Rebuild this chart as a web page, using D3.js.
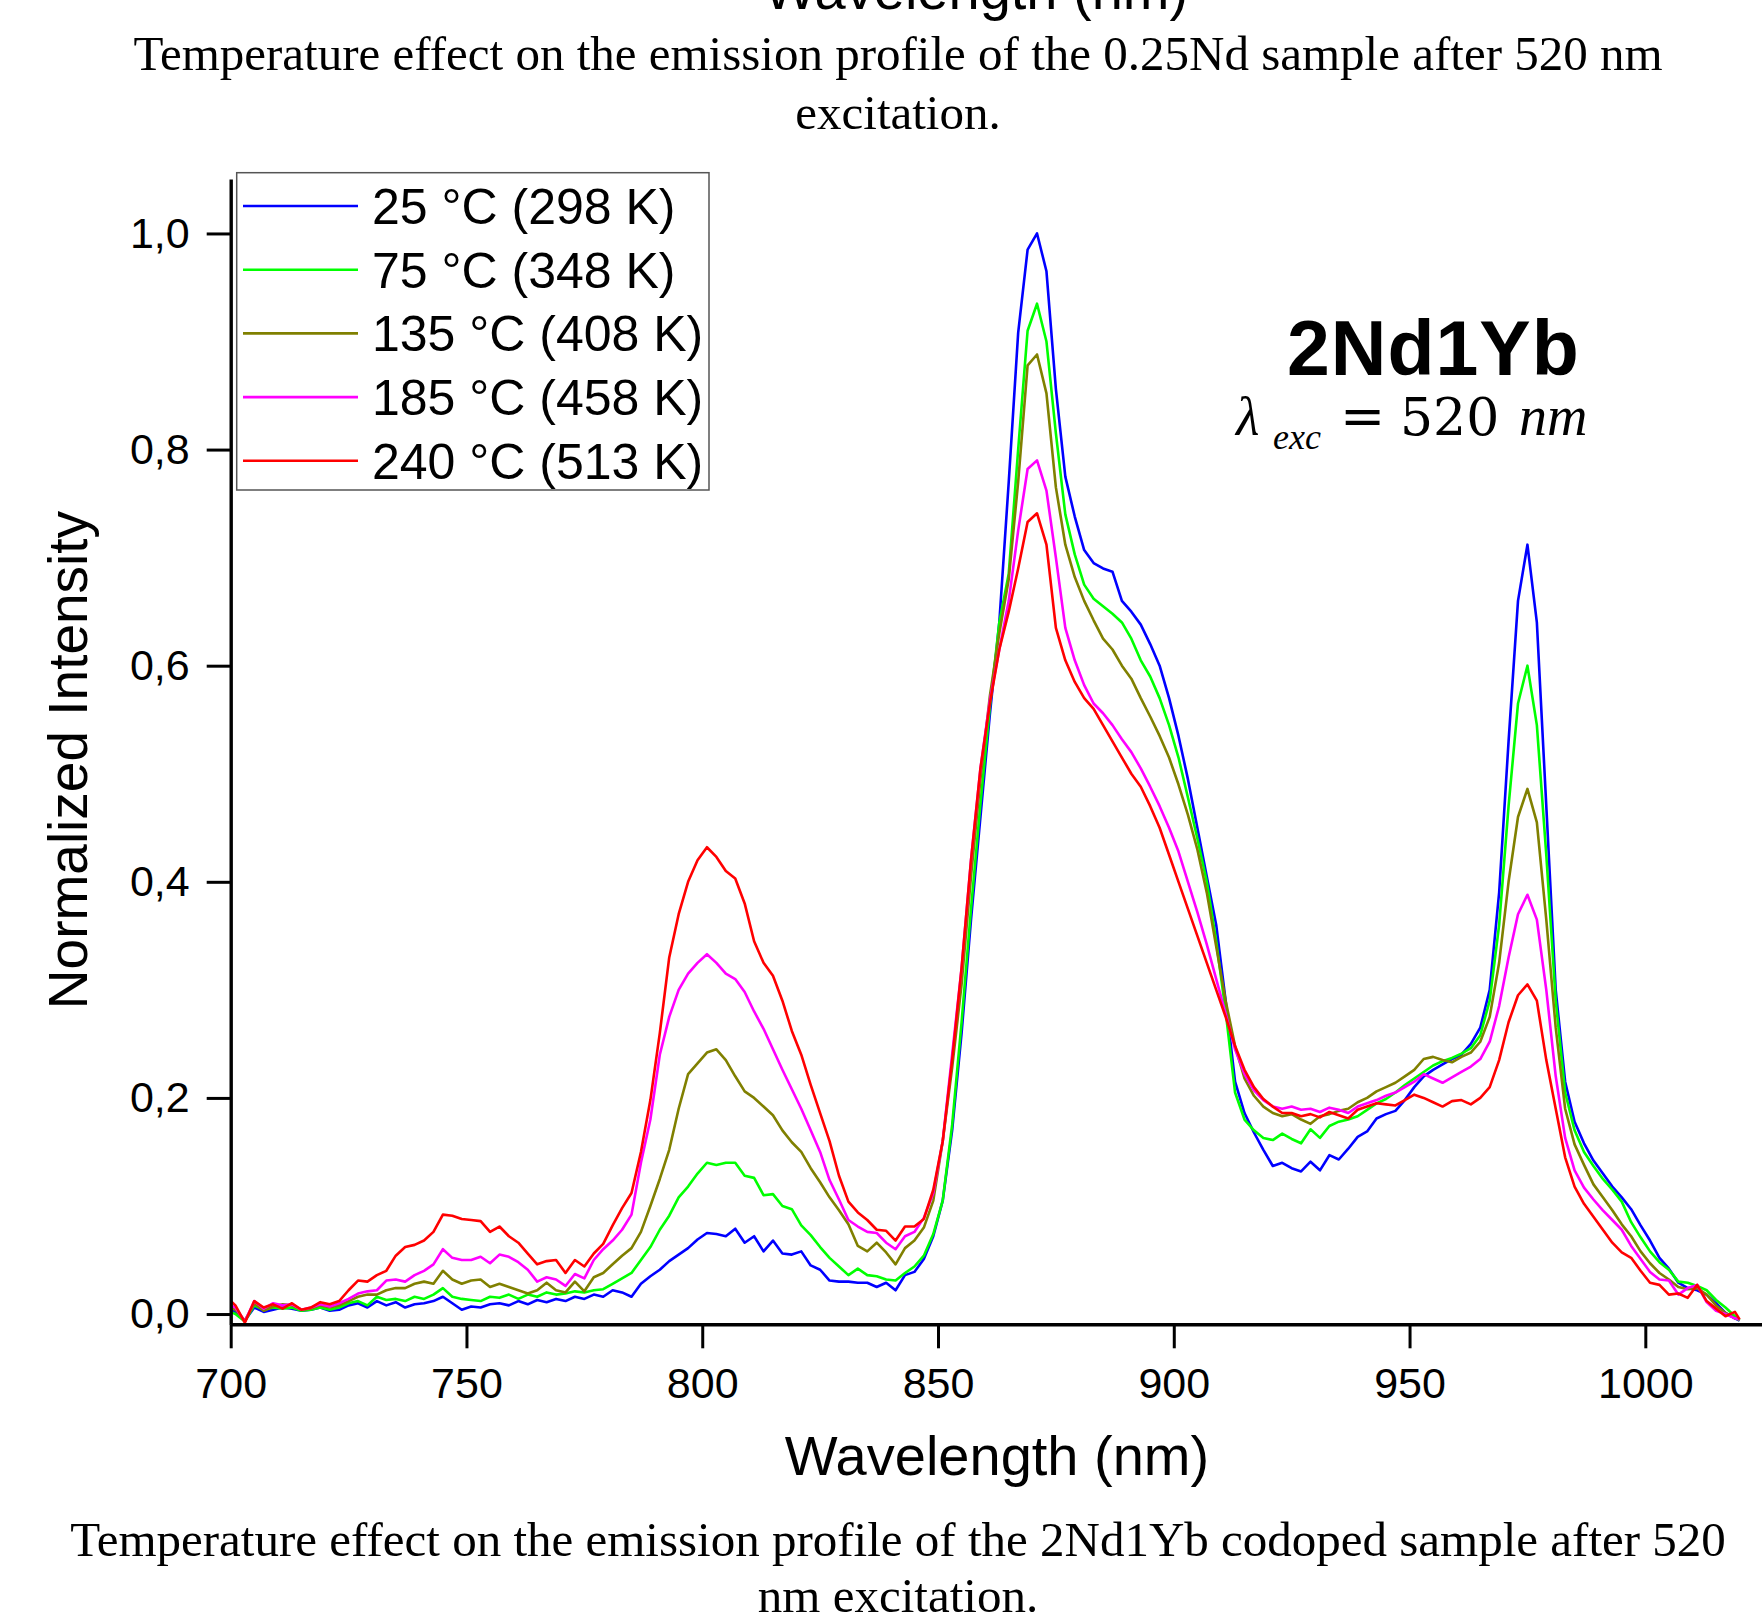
<!DOCTYPE html>
<html lang="en">
<head>
  <meta charset="UTF-8">
  <title>2Nd1Yb emission vs temperature</title>
  <style>
    body { margin: 0; background: #fff; }
    svg { display: block; }
    .sans { font-family: "Liberation Sans", Arial, sans-serif; }
    .serif { font-family: "Liberation Serif", "Times New Roman", serif; }
    .dserif { font-family: "DejaVu Serif", serif; }
  </style>
</head>
<body>
  <script src="https://d3js.org/d3.v7.min.js"></script>
  <script>
    // wavelength grid (nm)
    const wavelengths = [
      700, 701, 703, 705, 707, 709, 711, 713, 715, 717,
      719, 721, 723, 725, 727, 729, 731, 733, 735, 737,
      739, 741, 743, 745, 747, 749, 751, 753, 755, 757,
      759, 761, 763, 765, 767, 769, 771, 773, 775, 777,
      779, 781, 783, 785, 787, 789, 791, 793, 795, 797,
      799, 801, 803, 805, 807, 809, 811, 813, 815, 817,
      819, 821, 823, 825, 827, 829, 831, 833, 835, 837,
      839, 841, 843, 845, 847, 849, 851, 853, 855, 857,
      859, 861, 863, 865, 867, 869, 871, 873, 875, 877,
      879, 881, 883, 885, 887, 889, 891, 893, 895, 897,
      899, 901, 903, 905, 907, 909, 911, 913, 915, 917,
      919, 921, 923, 925, 927, 929, 931, 933, 935, 937,
      939, 941, 943, 945, 947, 949, 951, 953, 955, 957,
      959, 961, 963, 965, 967, 969, 971, 973, 975, 977,
      979, 981, 983, 985, 987, 989, 991, 993, 995, 997,
      999, 1001, 1003, 1005, 1007, 1009, 1011, 1013, 1015, 1017,
      1019, 1020
    ];

    const t25 = [
      0.004, 0.002, -0.006, 0.006, 0.002, 0.004, 0.006, 0.005, 0.003, 0.004,
      0.006, 0.003, 0.004, 0.008, 0.010, 0.006, 0.012, 0.008, 0.011, 0.006,
      0.009, 0.010, 0.012, 0.016, 0.010, 0.004, 0.007, 0.006, 0.009, 0.010,
      0.008, 0.012, 0.009, 0.013, 0.011, 0.014, 0.012, 0.016, 0.014, 0.018,
      0.016, 0.022, 0.020, 0.016, 0.028, 0.035, 0.041, 0.049, 0.055, 0.061,
      0.069, 0.075, 0.074, 0.072, 0.079, 0.066, 0.072, 0.058, 0.068, 0.056,
      0.055, 0.058, 0.045, 0.041, 0.031, 0.030, 0.030, 0.029, 0.029, 0.025,
      0.029, 0.022, 0.036, 0.039, 0.051, 0.072, 0.105, 0.170, 0.260, 0.365,
      0.460, 0.555, 0.640, 0.770, 0.908, 0.985, 1.000, 0.965, 0.856, 0.775,
      0.738, 0.707, 0.695, 0.690, 0.687, 0.660, 0.650, 0.638, 0.620, 0.600,
      0.570, 0.535, 0.495, 0.450, 0.405, 0.360, 0.290, 0.215, 0.186, 0.168,
      0.152, 0.137, 0.140, 0.135, 0.132, 0.141, 0.133, 0.147, 0.143, 0.153,
      0.164, 0.169, 0.181, 0.185, 0.188, 0.198, 0.210, 0.220, 0.226, 0.231,
      0.236, 0.240, 0.250, 0.265, 0.300, 0.390, 0.530, 0.660, 0.712, 0.640,
      0.470, 0.300, 0.215, 0.178, 0.158, 0.142, 0.130, 0.118, 0.108, 0.097,
      0.082, 0.068, 0.052, 0.042, 0.029, 0.024, 0.022, 0.018, 0.010, 0.001,
      -0.004, -0.006
    ];

    const t75 = [
      0.002, 0.000, -0.007, 0.008, 0.004, 0.006, 0.005, 0.006, 0.003, 0.004,
      0.006, 0.004, 0.006, 0.010, 0.012, 0.008, 0.016, 0.013, 0.014, 0.012,
      0.016, 0.014, 0.018, 0.024, 0.016, 0.014, 0.013, 0.012, 0.016, 0.015,
      0.018, 0.014, 0.018, 0.016, 0.020, 0.018, 0.019, 0.021, 0.020, 0.022,
      0.023, 0.028, 0.033, 0.038, 0.050, 0.062, 0.078, 0.091, 0.108, 0.118,
      0.130, 0.140, 0.138, 0.140, 0.140, 0.128, 0.126, 0.110, 0.111, 0.100,
      0.097, 0.082, 0.073, 0.062, 0.052, 0.044, 0.036, 0.042, 0.036, 0.035,
      0.032, 0.031, 0.038, 0.044, 0.054, 0.074, 0.105, 0.175, 0.270, 0.375,
      0.472, 0.562, 0.640, 0.685, 0.800, 0.910, 0.935, 0.900, 0.815, 0.740,
      0.703, 0.675, 0.662, 0.655, 0.648, 0.640, 0.625, 0.605, 0.590, 0.570,
      0.545, 0.515, 0.478, 0.440, 0.400, 0.345, 0.280, 0.205, 0.180, 0.170,
      0.163, 0.161, 0.167, 0.162, 0.158, 0.171, 0.163, 0.174, 0.178, 0.180,
      0.183, 0.189, 0.195, 0.199, 0.205, 0.212, 0.218, 0.224, 0.230, 0.234,
      0.237, 0.241, 0.246, 0.258, 0.290, 0.360, 0.470, 0.565, 0.600, 0.545,
      0.425, 0.290, 0.205, 0.170, 0.150, 0.137, 0.125, 0.115, 0.104, 0.085,
      0.071, 0.058, 0.048, 0.041, 0.030, 0.029, 0.026, 0.022, 0.013, 0.006,
      -0.002, -0.006
    ];

    const t135 = [
      0.006, 0.004, -0.006, 0.010, 0.003, 0.007, 0.009, 0.008, 0.004, 0.005,
      0.008, 0.006, 0.008, 0.012, 0.016, 0.018, 0.018, 0.022, 0.024, 0.024,
      0.028, 0.030, 0.028, 0.040, 0.032, 0.028, 0.031, 0.032, 0.025, 0.028,
      0.025, 0.022, 0.019, 0.022, 0.029, 0.022, 0.020, 0.030, 0.021, 0.034,
      0.038, 0.046, 0.054, 0.061, 0.076, 0.100, 0.125, 0.152, 0.190, 0.222,
      0.232, 0.242, 0.245, 0.235, 0.220, 0.206, 0.200, 0.192, 0.184, 0.170,
      0.159, 0.150, 0.135, 0.122, 0.108, 0.096, 0.083, 0.063, 0.058, 0.066,
      0.057, 0.046, 0.061, 0.068, 0.080, 0.105, 0.160, 0.228, 0.305, 0.405,
      0.495, 0.572, 0.630, 0.680, 0.770, 0.878, 0.888, 0.852, 0.765, 0.712,
      0.682, 0.660, 0.642, 0.625, 0.615, 0.600, 0.588, 0.570, 0.553, 0.535,
      0.515, 0.490, 0.462, 0.430, 0.390, 0.340, 0.290, 0.248, 0.218, 0.202,
      0.192, 0.186, 0.183, 0.185, 0.180, 0.176, 0.183, 0.185, 0.188, 0.190,
      0.196, 0.200, 0.206, 0.210, 0.214, 0.220, 0.226, 0.236, 0.238, 0.235,
      0.233, 0.238, 0.242, 0.252, 0.275, 0.325, 0.400, 0.460, 0.486, 0.455,
      0.365, 0.265, 0.190, 0.157, 0.138, 0.120, 0.108, 0.096, 0.083, 0.072,
      0.058, 0.047, 0.038, 0.032, 0.025, 0.023, 0.024, 0.018, 0.008, 0.001,
      -0.004, -0.005
    ];

    const t185 = [
      0.008, 0.006, -0.007, 0.012, 0.005, 0.010, 0.008, 0.009, 0.004, 0.006,
      0.009, 0.007, 0.010, 0.014, 0.019, 0.021, 0.022, 0.031, 0.032, 0.030,
      0.036, 0.040, 0.046, 0.060, 0.052, 0.050, 0.050, 0.053, 0.047, 0.055,
      0.053, 0.048, 0.041, 0.030, 0.034, 0.032, 0.026, 0.037, 0.033, 0.050,
      0.060, 0.068, 0.078, 0.092, 0.140, 0.180, 0.240, 0.275, 0.300, 0.315,
      0.325, 0.333, 0.325, 0.315, 0.310, 0.298, 0.280, 0.264, 0.245, 0.226,
      0.208, 0.190, 0.170, 0.150, 0.124, 0.106, 0.087, 0.081, 0.076, 0.075,
      0.066, 0.060, 0.072, 0.076, 0.089, 0.112, 0.160, 0.240, 0.320, 0.420,
      0.505, 0.568, 0.615, 0.660, 0.725, 0.782, 0.790, 0.762, 0.700, 0.635,
      0.605, 0.582, 0.565, 0.556, 0.545, 0.532, 0.520, 0.505, 0.488, 0.470,
      0.450, 0.428, 0.400, 0.372, 0.342, 0.310, 0.278, 0.245, 0.222, 0.207,
      0.198, 0.192, 0.190, 0.192, 0.189, 0.190, 0.187, 0.191, 0.189, 0.186,
      0.192, 0.195, 0.198, 0.202, 0.205, 0.210, 0.215, 0.222, 0.218, 0.214,
      0.219, 0.224, 0.229, 0.236, 0.252, 0.285, 0.330, 0.370, 0.388, 0.365,
      0.300, 0.220, 0.163, 0.133, 0.117, 0.106, 0.096, 0.087, 0.078, 0.063,
      0.051, 0.039, 0.032, 0.031, 0.018, 0.024, 0.027, 0.011, 0.003, 0.000,
      -0.004, -0.005
    ];

    const t240 = [
      0.012, 0.008, -0.008, 0.012, 0.006, 0.009, 0.005, 0.010, 0.004, 0.006,
      0.011, 0.009, 0.012, 0.022, 0.031, 0.030, 0.036, 0.040, 0.054, 0.062,
      0.064, 0.068, 0.076, 0.092, 0.091, 0.088, 0.087, 0.086, 0.076, 0.081,
      0.072, 0.066, 0.056, 0.046, 0.049, 0.050, 0.038, 0.050, 0.044, 0.056,
      0.065, 0.082, 0.098, 0.112, 0.150, 0.198, 0.260, 0.330, 0.370, 0.400,
      0.420, 0.432, 0.423, 0.410, 0.403, 0.380, 0.345, 0.325, 0.313, 0.290,
      0.262, 0.240, 0.212, 0.186, 0.160, 0.128, 0.104, 0.094, 0.087, 0.078,
      0.077, 0.068, 0.081, 0.081, 0.088, 0.115, 0.160, 0.235, 0.320, 0.420,
      0.505, 0.565, 0.615, 0.650, 0.690, 0.733, 0.741, 0.712, 0.635, 0.605,
      0.585, 0.570, 0.560, 0.545, 0.530, 0.515, 0.500, 0.488, 0.470, 0.450,
      0.425, 0.400, 0.375, 0.350, 0.325, 0.300, 0.275, 0.248, 0.226, 0.210,
      0.199, 0.192, 0.186, 0.186, 0.183, 0.185, 0.182, 0.187, 0.184, 0.181,
      0.189, 0.192, 0.195, 0.194, 0.193, 0.198, 0.203, 0.200, 0.196, 0.192,
      0.197, 0.198, 0.194, 0.200, 0.210, 0.235, 0.270, 0.295, 0.305, 0.290,
      0.235, 0.190, 0.145, 0.118, 0.102, 0.090, 0.078, 0.066, 0.057, 0.052,
      0.040, 0.029, 0.027, 0.018, 0.019, 0.015, 0.027, 0.012, 0.005, -0.002,
      0.002, -0.005
    ];

    const seriesNames = ["25 °C (298 K)", "75 °C (348 K)", "135 °C (408 K)", "185 °C (458 K)", "240 °C (513 K)"];
    const seriesValues = [t25, t75, t135, t185, t240];
    const seriesColors = ["#0000ff", "#00ff00", "#808000", "#ff00ff", "#ff0000"];

    const xMajorTicks = [700, 750, 800, 850, 900, 950, 1000];
    const xMinorTicks = [725, 775, 825, 875, 925, 975, 1025];
    const yMajorTicks = [0, 0.2, 0.4, 0.6, 0.8, 1.0];
    const yMinorTicks = [0.1, 0.3, 0.5, 0.7, 0.9];

    const width = 1762, height = 1621;

    const svg = d3.select("body").append("svg")
      .attr("width", width)
      .attr("height", height)
      .attr("viewBox", [0, 0, width, height]);

    svg.append("rect").attr("width", width).attr("height", height).attr("fill", "#fff");

    const x = d3.scaleLinear().domain([700, 1025]).range([230.7, 1763.2]);
    const y = d3.scaleLinear().domain([-0.0095, 1.0504]).range([1324.3, 179]);

    const commaFmt = d => d.toFixed(1).replace(".", ",");

    // curves
    const line = d3.line()
      .x((d, i) => x(wavelengths[i]))
      .y(d => y(d));

    svg.append("g")
      .selectAll("path")
      .data(seriesValues)
      .join("path")
      .attr("fill", "none")
      .attr("stroke", (d, i) => seriesColors[i])
      .attr("stroke-width", 2.6)
      .attr("stroke-linejoin", "round")
      .attr("d", line);

    // axes
    const xAxisG = svg.append("g").attr("transform", `translate(0,${y.range()[0]})`);
    xAxisG.call(d3.axisBottom(x).tickValues(xMinorTicks).tickSize(13).tickSizeOuter(0).tickFormat(""));
    xAxisG.call(d3.axisBottom(x).tickValues(xMajorTicks).tickSize(24).tickSizeOuter(0).tickPadding(19).tickFormat(d3.format("d")));

    const yAxisG = svg.append("g").attr("transform", `translate(${x.range()[0]},0)`);
    yAxisG.call(d3.axisLeft(y).tickValues(yMinorTicks).tickSize(12).tickSizeOuter(0).tickFormat(""));
    yAxisG.call(d3.axisLeft(y).tickValues(yMajorTicks).tickSize(24).tickSizeOuter(0).tickPadding(17).tickFormat(commaFmt));

    svg.selectAll(".domain").attr("stroke", "#000").attr("stroke-width", 3.4);
    svg.selectAll(".tick line").attr("stroke", "#000").attr("stroke-width", 3);
    svg.selectAll(".tick text")
      .attr("class", "sans")
      .attr("fill", "#000")
      .style("font-size", "43px");

    // axis titles
    svg.append("text")
      .attr("class", "sans")
      .attr("x", 997).attr("y", 1475)
      .attr("text-anchor", "middle")
      .style("font-size", "56px")
      .text("Wavelength (nm)");

    svg.append("text")
      .attr("class", "sans")
      .attr("transform", "translate(87,760) rotate(-90)")
      .attr("text-anchor", "middle")
      .style("font-size", "55px")
      .text("Normalized Intensity");

    // legend
    const legend = svg.append("g");
    legend.append("rect")
      .attr("x", 236.7).attr("y", 172.7)
      .attr("width", 472.3).attr("height", 317.3)
      .attr("fill", "#fff")
      .attr("stroke", "#555")
      .attr("stroke-width", 1.5);

    const items = legend.selectAll("g.item")
      .data(seriesNames)
      .join("g")
      .attr("class", "item")
      .attr("transform", (d, i) => `translate(0,${206 + i * 63.7})`);

    items.append("line")
      .attr("x1", 243).attr("x2", 358)
      .attr("stroke", (d, i) => seriesColors[i])
      .attr("stroke-width", 2.6);

    items.append("text")
      .attr("class", "sans")
      .attr("x", 372).attr("y", 18)
      .style("font-size", "50px")
      .text(d => d);

    // sample annotation
    svg.append("text")
      .attr("class", "sans")
      .attr("x", 1287).attr("y", 375)
      .style("font-size", "77px")
      .style("font-weight", "bold")
      .style("letter-spacing", "1px")
      .text("2Nd1Yb");

    const eq = svg.append("g");
    eq.append("text").attr("class", "serif").attr("x", 1236).attr("y", 435)
      .style("font-size", "54px").style("font-style", "italic").text("λ");
    eq.append("text").attr("class", "serif").attr("x", 1273).attr("y", 449)
      .style("font-size", "36px").style("font-style", "italic").text("exc");
    eq.append("text").attr("class", "dserif").attr("x", 1340).attr("y", 435)
      .style("font-size", "54px").text("=");
    eq.append("text").attr("class", "dserif").attr("x", 1400).attr("y", 435)
      .style("font-size", "52px").text("520");
    eq.append("text").attr("class", "serif").attr("x", 1519).attr("y", 435)
      .style("font-size", "56px").style("font-style", "italic").text("nm");

    // figure captions (page text around the chart)
    const captions = [
      { text: "Wavelength (nm)", x: 976, y: 9, cls: "sans", size: 56 },
      { text: "Temperature effect on the emission profile of the 0.25Nd sample after 520 nm", x: 898, y: 70, cls: "serif", size: 49 },
      { text: "excitation.", x: 898, y: 129, cls: "serif", size: 49 },
      { text: "Temperature effect on the emission profile of the 2Nd1Yb codoped sample after 520", x: 898, y: 1556, cls: "serif", size: 49 },
      { text: "nm excitation.", x: 898, y: 1612, cls: "serif", size: 49 }
    ];
    svg.selectAll("text.caption")
      .data(captions)
      .join("text")
      .attr("class", d => "caption " + d.cls)
      .attr("x", d => d.x).attr("y", d => d.y)
      .attr("text-anchor", "middle")
      .style("font-size", d => d.size + "px")
      .text(d => d.text);
  </script>
</body>
</html>
